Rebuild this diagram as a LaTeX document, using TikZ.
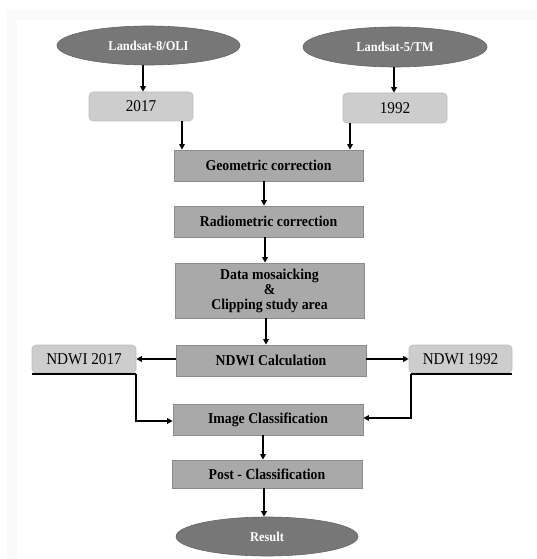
\documentclass[tikz,border=0pt]{standalone}
\usepackage{fontspec}
\setmainfont[FakeStretch=0.92]{Liberation Serif}
\usetikzlibrary{arrows.meta,shapes.geometric}
\definecolor{ellgray}{HTML}{777777}
\definecolor{procfill}{HTML}{A9A9A9}
\definecolor{procdraw}{HTML}{8C8C8C}
\definecolor{yearfill}{HTML}{CDCDCD}
\definecolor{yeardraw}{HTML}{BDBDBD}
\tikzset{
  sat/.style={ellipse, fill=ellgray, draw=ellgray!85!black, line width=0.6pt, inner sep=0pt,
    text=white, font=\fontsize{13.5}{15}\selectfont\bfseries},
  yearbox/.style={rectangle, rounded corners=4pt, fill=yearfill, draw=yeardraw, line width=0.6pt,
    inner sep=0pt, font=\fontsize{16.5}{18}\selectfont},
  proc/.style={rectangle, fill=procfill, draw=procdraw, line width=0.8pt, inner sep=0pt,
    align=center, font=\fontsize{15}{15}\selectfont\bfseries},
  arr/.style={line width=1.4pt, -{Triangle[length=5.5pt,width=5.5pt]}},
  ln/.style={line width=1.4pt}
}
\begin{document}
\begin{tikzpicture}[x=1pt,y=-1pt]
\useasboundingbox (0,0) rectangle (536,559);
\fill[gray!4] (7,10) rectangle (536,559);
\fill[white] (17,20) rectangle (536,559);

\node[sat, minimum width=183pt, minimum height=39pt] (e1) at (148.5,45.5) {Landsat-8/OLI};
\node[sat, minimum width=184pt, minimum height=40pt] (e2) at (395,47) {Landsat-5/TM};
\node[yearbox, minimum width=104pt, minimum height=29pt] (y17) at (141,106.5) {2017};
\node[yearbox, minimum width=104pt, minimum height=30pt] (y92) at (395,108) {1992};
\node[proc, minimum width=189pt, minimum height=31pt] (geo) at (268.5,165.5) {Geometric correction};
\node[proc, minimum width=189pt, minimum height=31pt] (rad) at (268.5,221.5) {Radiometric correction};
\node[proc, minimum width=189pt, minimum height=55pt] (mos) at (269.5,290.5) {Data mosaicking\\ \&\\ Clipping study area};
\node[proc, minimum width=190pt, minimum height=31pt] (ndwi) at (271,360.5) {NDWI Calculation};
\node[yearbox, minimum width=104pt, minimum height=28pt] (n17) at (84,359) {NDWI 2017};
\node[yearbox, minimum width=103pt, minimum height=28pt] (n92) at (460.5,359) {NDWI 1992};
\node[proc, minimum width=190pt, minimum height=31pt] (img) at (268,419.5) {Image Classification};
\node[proc, minimum width=190pt, minimum height=28pt] (post) at (267,474) {Post - Classification};
\node[sat, minimum width=182pt, minimum height=39pt] (res) at (267,536.5) {Result};

\draw[arr] (e1.south -| 143,0) -- (y17.north -| 143,0);
\draw[arr] (e2.south -| 394,0) -- (y92.north -| 394,0);
\draw[arr] (y17.south -| 182,0) -- (geo.north -| 182,0);
\draw[arr] (y92.south -| 350,0) -- (geo.north -| 350,0);
\draw[arr] (geo.south -| 264,0) -- (rad.north -| 264,0);
\draw[arr] (rad.south -| 265,0) -- (mos.north -| 265,0);
\draw[arr] (mos.south -| 266,0) -- (ndwi.north -| 266,0);
\draw[arr] (ndwi.west |- 0,359) -- (n17.east |- 0,359);
\draw[arr] (ndwi.east |- 0,359) -- (n92.west |- 0,359);
\draw[arr] (img.south -| 263,0) -- (post.north -| 263,0);
\draw[arr] (post.south -| 264,0) -- (res.north -| 264,0);

\coordinate (a17) at (136,374);
\coordinate (a92) at (411,374);
\draw[ln] (n17.south west |- a17) -- (a17);
\draw[arr] (a17) |- (img.west |- 0,421);
\draw[ln] (n92.south east |- a92) -- (a92);
\draw[arr] (a92) |- (img.east |- 0,418);
\end{tikzpicture}
\end{document}
